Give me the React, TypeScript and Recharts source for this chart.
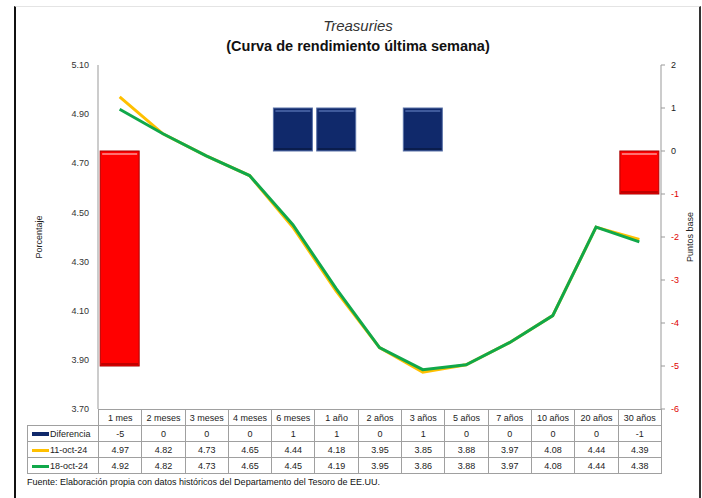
import React from 'react';
import { ComposedChart, Bar, Line, XAxis, YAxis, Cell } from 'recharts';

const categories = ['1 mes', '2 meses', '3 meses', '4 meses', '6 meses', '1 año', '2 años', '3 años', '5 años', '7 años', '10 años', '20 años', '30 años'];
const diferencia = [-5, 0, 0, 0, 1, 1, 0, 1, 0, 0, 0, 0, -1];
const oct11 = [4.97, 4.82, 4.73, 4.65, 4.44, 4.18, 3.95, 3.85, 3.88, 3.97, 4.08, 4.44, 4.39];
const oct18 = [4.92, 4.82, 4.73, 4.65, 4.45, 4.19, 3.95, 3.86, 3.88, 3.97, 4.08, 4.44, 4.38];
const leftTicks = [3.7, 3.9, 4.1, 4.3, 4.5, 4.7, 4.9, 5.1];
const rightTicks = [-6, -5, -4, -3, -2, -1, 0, 1, 2];

const FONT = '"Liberation Sans", Arial, sans-serif';
const NAVY = '#10296b';
const RED = '#ff0000';
const YELLOW = '#ffc000';
const GREEN = '#10a84a';

const data = categories.map((cat, i) => ({
  cat,
  diferencia: diferencia[i],
  oct11: oct11[i],
  oct18: oct18[i],
}));

// bar with a small bevel, like the office "3D" bar style
const BevelBar = (props: any) => {
  let { x, y, width, height } = props;
  const value = props.diferencia ?? props.value;
  if (!height) return null;
  if (height < 0) {
    y += height;
    height = -height;
  }
  const neg = value < 0;
  const base = neg ? RED : NAVY;
  const edge = neg ? '#a80000' : '#5a72a8';
  const light = neg ? '#ff7070' : '#3f5a9c';
  return (
    <g>
      <rect x={x} y={y} width={width} height={height} fill={base} stroke={edge} strokeWidth={1} />
      <rect x={x + 2} y={y + 2} width={width - 4} height={2} fill={light} />
      <rect x={x + 1} y={y + height - 3} width={width - 2} height={2} fill={neg ? '#c00000' : '#0a1d4d'} />
    </g>
  );
};

const RightTick = (props: any) => {
  const { x, y, payload } = props;
  const v = payload.value;
  return (
    <text x={x + 4} y={y} dy={3} fontSize={9} fontFamily={FONT} fill={v < 0 ? '#e00000' : '#222'}>
      {v}
    </text>
  );
};

const cell: React.CSSProperties = {
  border: '1px solid #a0a0a0',
  padding: 0,
  height: 15,
  textAlign: 'center',
  fontSize: 9,
  color: '#222',
  whiteSpace: 'nowrap',
  overflow: 'hidden',
};

const LegendKey = ({ color, thick }: { color: string; thick: number }) => (
  <span style={{ display: 'inline-block', width: 17, height: thick, background: color, verticalAlign: 'middle', marginRight: 1 }} />
);

export default function App() {
  const rows = [
    { label: 'Diferencia', color: NAVY, thick: 4, values: diferencia.map((v) => String(v)) },
    { label: '11-oct-24', color: YELLOW, thick: 3, values: oct11.map((v) => v.toFixed(2)) },
    { label: '18-oct-24', color: GREEN, thick: 3, values: oct18.map((v) => v.toFixed(2)) },
  ];

  return (
    <div style={{ position: 'absolute', left: 0, top: 0, width: 702, height: 498, background: '#fff', fontFamily: FONT, overflow: 'hidden' }}>
      <div style={{ position: 'absolute', left: 14, top: 6, width: 683, height: 500, borderLeft: '2px solid #111', borderRight: '2px solid #333', borderTop: '1px solid #e4e4e4' }} />

      <div style={{ position: 'absolute', left: 0, width: 716, top: 17, textAlign: 'center', fontSize: 15, fontStyle: 'italic', color: '#333' }}>
        Treasuries
      </div>
      <div style={{ position: 'absolute', left: 0, width: 716, top: 38, textAlign: 'center', fontSize: 14.5, fontWeight: 'bold', color: '#111' }}>
        (Curva de rendimiento última semana)
      </div>

      <div style={{ position: 'absolute', left: 0, top: 0 }}>
        <ComposedChart width={702} height={498} data={data} margin={{ top: 65, right: 0, left: 0, bottom: 89 }} barCategoryGap="5%">
          <XAxis dataKey="cat" hide />
          <YAxis
            yAxisId="left"
            width={98}
            domain={[3.7, 5.1]}
            ticks={leftTicks}
            tickFormatter={(v: number) => v.toFixed(2)}
            tickLine={false}
            tickSize={6}
            tickMargin={3}
            axisLine={{ stroke: '#999' }}
            tick={{ fontSize: 9, fill: '#333', fontFamily: FONT }}
            interval={0}
          />
          <YAxis
            yAxisId="right"
            orientation="right"
            width={41}
            domain={[-6, 2]}
            ticks={rightTicks}
            tickSize={4}
            tickLine={{ stroke: '#999' }}
            axisLine={{ stroke: '#999' }}
            tick={<RightTick />}
            interval={0}
          />
          <Bar yAxisId="right" dataKey="diferencia" shape={<BevelBar />} isAnimationActive={false}>
            {data.map((d, i) => (
              <Cell key={i} fill={d.diferencia < 0 ? RED : NAVY} />
            ))}
          </Bar>
          <Line yAxisId="left" type="linear" dataKey="oct11" stroke={YELLOW} strokeWidth={3} dot={false} isAnimationActive={false} />
          <Line yAxisId="left" type="linear" dataKey="oct18" stroke={GREEN} strokeWidth={3} dot={false} isAnimationActive={false} />
        </ComposedChart>
      </div>

      <div style={{ position: 'absolute', left: 39, top: 237, transform: 'translate(-50%, -50%) rotate(-90deg)', fontSize: 9, color: '#222', whiteSpace: 'nowrap' }}>
        Porcentaje
      </div>
      <div style={{ position: 'absolute', left: 690, top: 237, transform: 'translate(-50%, -50%) rotate(-90deg)', fontSize: 9, color: '#222', whiteSpace: 'nowrap' }}>
        Puntos base
      </div>

      <table style={{ position: 'absolute', left: 27, top: 409, borderCollapse: 'collapse', tableLayout: 'fixed', width: 634, fontFamily: FONT }}>
        <colgroup>
          <col style={{ width: 71 }} />
          {categories.map((c) => (
            <col key={c} style={{ width: 563 / 13 }} />
          ))}
        </colgroup>
        <tbody>
          <tr>
            <td style={{ ...cell, border: 'none' }} />
            {categories.map((c) => (
              <td key={c} style={cell}>{c}</td>
            ))}
          </tr>
          {rows.map((r) => (
            <tr key={r.label}>
              <td style={{ ...cell, textAlign: 'left', paddingLeft: 4 }}>
                <LegendKey color={r.color} thick={r.thick} />
                {r.label}
              </td>
              {r.values.map((v, i) => (
                <td key={i} style={cell}>{v}</td>
              ))}
            </tr>
          ))}
        </tbody>
      </table>

      <div style={{ position: 'absolute', left: 27, top: 477, fontSize: 9, color: '#111' }}>
        Fuente: Elaboración propia con datos históricos del Departamento del Tesoro de EE.UU.
      </div>
    </div>
  );
}
